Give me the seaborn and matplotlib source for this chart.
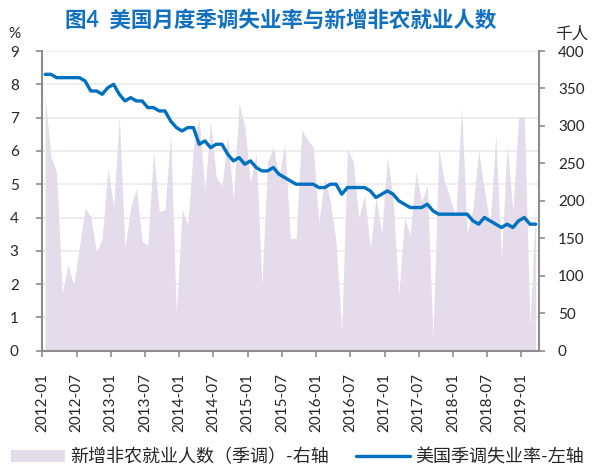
import numpy as np
import pandas as pd
import matplotlib
matplotlib.use('Agg')
import matplotlib.pyplot as plt
import seaborn as sns
from matplotlib.patches import Patch
from matplotlib.lines import Line2D

# Dados: 2012-01 a 2019-03 (mensal)
meses = pd.period_range('2012-01', '2019-03', freq='M').strftime('%Y-%m').tolist()

# Taxa de desemprego dessazonalizada (%), eixo esquerdo
desemprego = [
    8.3, 8.3, 8.2, 8.2, 8.2, 8.2, 8.2, 8.1, 7.8, 7.8, 7.7, 7.9,
    8.0, 7.7, 7.5, 7.6, 7.5, 7.5, 7.3, 7.3, 7.2, 7.2, 6.9, 6.7,
    6.6, 6.7, 6.7, 6.2, 6.3, 6.1, 6.2, 6.2, 5.9, 5.7, 5.8, 5.6,
    5.7, 5.5, 5.4, 5.4, 5.5, 5.3, 5.2, 5.1, 5.0, 5.0, 5.0, 5.0,
    4.9, 4.9, 5.0, 5.0, 4.7, 4.9, 4.9, 4.9, 4.9, 4.8, 4.6, 4.7,
    4.8, 4.7, 4.5, 4.4, 4.3, 4.3, 4.3, 4.4, 4.2, 4.1, 4.1, 4.1,
    4.1, 4.1, 4.1, 3.9, 3.8, 4.0, 3.9, 3.8, 3.7, 3.8, 3.7, 3.9,
    4.0, 3.8, 3.8,
]

# Novos empregos não agrícolas (mil), eixo direito
nao_agricola = [
    339, 259, 239, 76, 115, 88, 139, 190, 179, 132, 150, 244,
    192, 312, 137, 192, 217, 146, 141, 266, 186, 188, 290, 48,
    188, 168, 272, 310, 214, 306, 232, 219, 286, 201, 330, 299,
    224, 264, 88, 252, 272, 232, 277, 150, 150, 295, 281, 272,
    170, 232, 199, 146, 26, 270, 252, 177, 208, 137, 204, 157,
    259, 204, 75, 177, 155, 239, 199, 221, 17, 270, 226, 204,
    177, 324, 157, 190, 268, 215, 168, 288, 124, 275, 186, 312,
    312, 35, 195,
]

df = pd.DataFrame({'mes': meses, 'desemprego': desemprego, 'nfp': nao_agricola})
df['idx'] = np.arange(len(df))

titulo = '图4  美国月度季调失业率与新增非农就业人数'
leg_area = '新增非农就业人数（季调）-右轴'
leg_linha = '美国季调失业率-左轴'

cor_area = '#E4DCEA'
cor_linha = '#0070C0'
cor_eixo = '#8C8C8C'
cor_texto = '#262626'

sns.set_style('white')
plt.rcParams['font.family'] = ['Lato', 'Noto Sans CJK SC', 'DejaVu Sans']

fig = plt.figure(figsize=(5.95, 4.68), dpi=100)
ax = fig.add_axes([0.0711, 0.2506, 0.834, 0.6404])
ax2 = ax.twinx()
ax3 = ax.twinx()

# Eixo esquerdo: grade e rótulos
ax.set_ylim(0, 9)
ax.set_yticks(range(0, 10))
ax.yaxis.grid(True, color='#EDEDED', linewidth=1.3)
ax.xaxis.grid(False)
ax.set_xlim(-0.5, len(df) - 0.5)
ticks_x = np.arange(-0.5, len(df) - 3, 6)
ax.set_xticks(ticks_x)
ax.set_xticklabels(meses[::6][:len(ticks_x)], rotation=90)
ax.tick_params(axis='y', left=True, direction='out', length=4, width=1.2,
               color=cor_eixo, pad=13, labelsize=11, labelcolor=cor_texto)
ax.tick_params(axis='x', bottom=True, direction='out', length=4, width=1.2,
               color=cor_eixo, pad=12, labelsize=11, labelcolor=cor_texto)
for s in ax.spines.values():
    s.set_visible(False)

# Eixo direito: área
ax2.fill_between(df['idx'], df['nfp'], 0, color=cor_area, linewidth=0)
ax2.set_ylim(0, 400)
ax2.set_yticks(range(0, 401, 50))
ax2.tick_params(axis='y', right=True, direction='out', length=4, width=1.2,
                color=cor_eixo, pad=10, labelsize=11, labelcolor=cor_texto)
for s in ax2.spines.values():
    s.set_visible(False)

# Linha do desemprego por cima
sns.lineplot(data=df, x='idx', y='desemprego', ax=ax3, color=cor_linha, linewidth=2.4)
ax3.set_ylim(0, 9)
ax3.set_xlim(-0.5, len(df) - 0.5)
ax3.set_xlabel('')
ax3.set_ylabel('')
ax3.tick_params(axis='y', left=False, right=False, labelleft=False, labelright=False)
ax3.spines['top'].set_visible(False)
for lado in ['left', 'right', 'bottom']:
    ax3.spines[lado].set_color(cor_eixo)
    ax3.spines[lado].set_linewidth(1.5)

fig.text(0.472, 0.957, titulo, ha='center', va='center', fontsize=15.5,
         fontweight='bold', color='#1170C0')
fig.text(14 / 595, 1 - 34 / 468, '%', ha='center', va='center', fontsize=11, color=cor_texto)
fig.text(572 / 595, 1 - 34 / 468, '千人', ha='center', va='center', fontsize=12, color=cor_texto)

handles = [Patch(facecolor=cor_area, edgecolor='none', label=leg_area),
           Line2D([], [], color=cor_linha, linewidth=2.4, label=leg_linha)]
fig.legend(handles=handles, loc='center', bbox_to_anchor=(0.5, 0.024), ncol=2,
           frameon=False, fontsize=13, handlelength=3.0, handletextpad=0.3,
           columnspacing=1.5, labelcolor=cor_texto)

fig.savefig('out.png', dpi=100)
